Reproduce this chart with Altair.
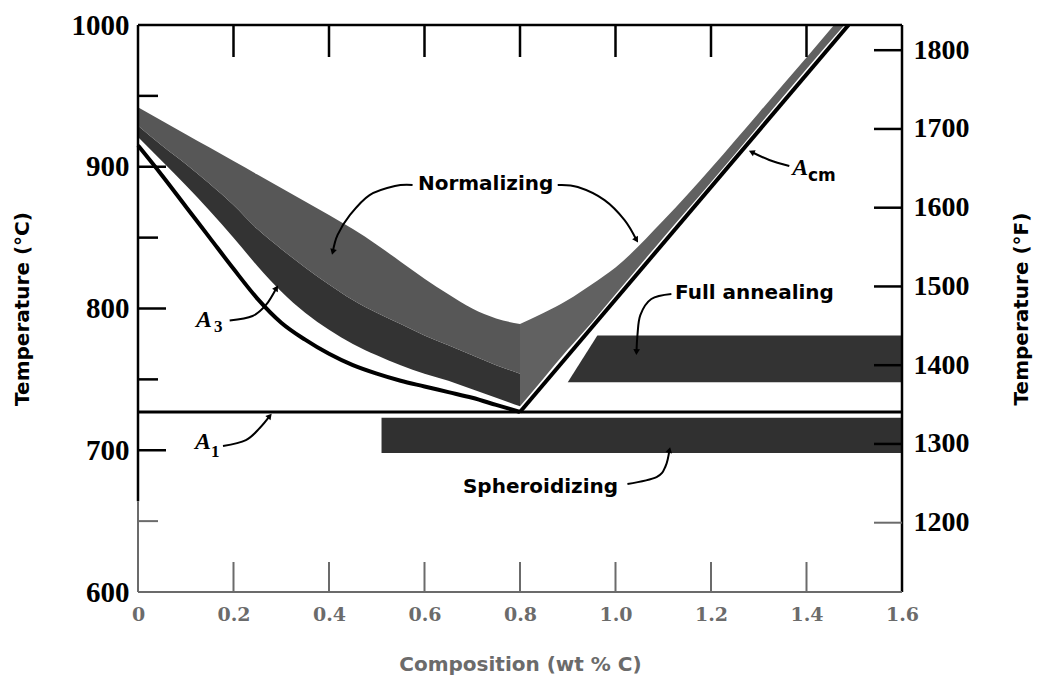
import math
import altair as alt
import pandas as pd

W, H = 764, 567
GRAY = "#6b6b6b"
NORM = "#575757"
NORM_R = "#616161"
FULL = "#333333"
SPHER = "#303030"

# ---------------- data ----------------
x_label_vals = [0, 0.2, 0.4, 0.6, 0.8, 1.0, 1.2, 1.4, 1.6]
x_inner_ticks = [0.2, 0.4, 0.6, 0.8, 1.0, 1.2, 1.4]
c_label_vals = [600, 700, 800, 900, 1000]
c_major_ticks = [700, 800, 900]
c_minor_ticks = [750, 850, 950]
c_faint_ticks = [650]
f_label_vals = [1200, 1300, 1400, 1500, 1600, 1700, 1800]
f_dark_ticks = [1300, 1400, 1500, 1600, 1700, 1800]
f_faint_ticks = [1200]

# A3 boundary
a3_x = [0, 0.05, 0.1, 0.15, 0.2, 0.25, 0.3, 0.35, 0.4, 0.45, 0.5, 0.55, 0.6, 0.65, 0.7, 0.75, 0.8]
a3_t = [915, 894, 872, 850, 828, 807, 790, 778, 768, 760, 754, 749, 745, 741, 737, 732, 727]
# Acm boundary
acm_x = [0.8, 1.488]
acm_t = [727, 1000]
# A1 line
a1_x = [0, 1.6]
a1_t = [727, 727]

# hypoeutectoid heat-treatment band (lower edge, split, upper edge)
band_x = [0, 0.05, 0.1, 0.15, 0.2, 0.25, 0.3, 0.35, 0.4, 0.45, 0.5, 0.55, 0.6, 0.65, 0.7, 0.75, 0.8]
band_lo = [921, 904, 887, 869, 850, 830, 812, 797, 785, 775, 767, 760, 754, 749, 743, 737, 731]
band_mid = [929, 915, 902, 888, 873, 856, 842, 829, 817, 806, 797, 789, 781, 774, 767, 760, 754]
band_hi = [942, 932.5, 923, 913.5, 904, 894.5, 885, 875.5, 866, 856, 845, 833, 821, 810, 800, 793, 789]
# normalizing band above Acm
nr_x = [0.8, 0.85, 0.9, 0.95, 1.0, 1.1, 1.2, 1.3, 1.4, 1.5]
nr_lo = [731, 751, 771, 790, 810, 850, 889, 929, 969, 1008]
nr_hi = [789, 797, 806, 817, 829, 862, 899, 938, 977, 1017]
# full annealing band, hypereutectoid
fa_x = [0.90, 0.962, 1.6]
fa_lo = [748, 748, 748]
fa_hi = [748, 781, 781]
# spheroidizing band
sp_x0, sp_x1 = [0.51], [1.6]
sp_lo, sp_hi = [698], [723]

# leader lines (composition, temperature)
leaders = {
    "norm_l": ([0.575, 0.538, 0.485, 0.444, 0.418, 0.408], [887.1, 886.4, 880, 866, 851.9, 839.9]),
    "norm_r": ([0.879, 0.921, 0.977, 1.019, 1.044], [887.1, 885.7, 876.5, 862.4, 848.3]),
    "full": ([1.117, 1.075, 1.052, 1.046, 1.044], [810.2, 806.7, 795.4, 781.3, 769.3]),
    "sph": ([1.025, 1.086, 1.105, 1.113], [676.2, 681.1, 688.9, 700.2]),
    "a3": ([0.192, 0.24, 0.268, 0.29], [791.5, 794.7, 802.5, 814.5]),
    "acm": ([1.364, 1.322, 1.285], [900.5, 904.8, 910.4]),
    "a1": ([0.178, 0.226, 0.255, 0.276], [703, 707.2, 715.7, 724.2]),
}

proc_text = ["Normalizing", "Full annealing", "Spheroidizing"]
proc_x = [0.728, 1.291, 0.843]
proc_t = [887.8, 811, 674]

a_text = ["A", "A", "A"]
a_x = [0.138, 1.387, 0.136]
a_t = [791.9, 899.1, 705.8]
sub_num_text = ["3", "1"]
sub_num_x = [0.168, 0.162]
sub_num_t = [787, 699]
sub_cm_text = ["cm"]
sub_cm_x = [1.432]
sub_cm_t = [893.5]

# ---------------- scales / axes ----------------
xs = alt.Scale(domain=[0, 1.6], nice=False, zero=False)
ys = alt.Scale(domain=[600, 1000], nice=False, zero=False)
fs = alt.Scale(domain=[1112, 1832], nice=False, zero=False)

x_axis = alt.Axis(
    values=x_label_vals,
    labelExpr="datum.value == 0 ? '0' : format(datum.value, '.1f')",
    ticks=False, domain=False, grid=False,
    labelFont="DejaVu Serif", labelFontWeight="bold", labelFontSize=19,
    labelColor=GRAY, labelPadding=13, labelFlush=False, labelOverlap=False,
    title="Composition (wt % C)", titleFont="DejaVu Sans", titleFontWeight="bold",
    titleFontSize=20, titleColor=GRAY, titleX=W / 2, titleY=82,
    titleAlign="center", titleBaseline="bottom",
)
y_axis = alt.Axis(
    values=c_label_vals, format="d", ticks=False, domain=False, grid=False,
    labelFont="Liberation Serif", labelFontWeight="bold", labelFontSize=29,
    labelColor="black", labelPadding=9, labelOverlap=False,
    title="Temperature (°C)", titleFont="DejaVu Sans", titleFontWeight="bold",
    titleFontSize=20, titleColor="black", titleX=-116, titleY=H / 2,
    titleAngle=270, titleAlign="center", titleBaseline="middle",
)
f_axis = alt.Axis(
    orient="right", values=f_label_vals, format="d", ticks=False, domain=False, grid=False,
    labelFont="Liberation Serif", labelFontWeight="bold", labelFontSize=28,
    labelColor="black", labelPadding=11, labelOverlap=False,
    title="Temperature (°F)", titleFont="DejaVu Sans", titleFontWeight="bold",
    titleFontSize=20, titleColor="black", titleX=119, titleY=H / 2,
    titleAngle=270, titleAlign="center", titleBaseline="middle",
)


def X(field="x"):
    return alt.X(f"{field}:Q", scale=xs)


def Y(field="t"):
    return alt.Y(f"{field}:Q", scale=ys)


one = pd.DataFrame({"k": [0]})

# ---------------- layers ----------------
band_df = pd.DataFrame({"x": band_x, "lo": band_lo, "mid": band_mid, "hi": band_hi})
full_left = alt.Chart(band_df).mark_area(color=FULL, interpolate="monotone").encode(
    x=alt.X("x:Q", scale=xs, axis=x_axis),
    y=alt.Y("lo:Q", scale=ys, axis=y_axis),
    y2="mid:Q",
)
norm_left = alt.Chart(band_df).mark_area(color=NORM, interpolate="monotone").encode(
    x=X(), y=Y("mid"), y2="hi:Q"
)
nr_df = pd.DataFrame({"x": nr_x, "lo": nr_lo, "hi": nr_hi})
norm_right = alt.Chart(nr_df).mark_area(color=NORM_R, interpolate="monotone", clip=True).encode(
    x=X(), y=Y("lo"), y2="hi:Q"
)
fa_df = pd.DataFrame({"x": fa_x, "lo": fa_lo, "hi": fa_hi})
full_right = alt.Chart(fa_df).mark_area(color=FULL).encode(x=X(), y=Y("lo"), y2="hi:Q")
sp_df = pd.DataFrame({"x0": sp_x0, "x1": sp_x1, "lo": sp_lo, "hi": sp_hi})
spher = alt.Chart(sp_df).mark_rect(color=SPHER).encode(x=X("x0"), x2="x1:Q", y=Y("lo"), y2="hi:Q")

a3_line = alt.Chart(pd.DataFrame({"x": a3_x, "t": a3_t})).mark_line(
    color="black", strokeWidth=4, interpolate="monotone"
).encode(x=X(), y=Y())
acm_line = alt.Chart(pd.DataFrame({"x": acm_x, "t": acm_t})).mark_line(
    color="black", strokeWidth=4, clip=True
).encode(x=X(), y=Y())
a1_line = alt.Chart(pd.DataFrame({"x": a1_x, "t": a1_t})).mark_line(
    color="black", strokeWidth=3
).encode(x=X(), y=Y())

# frame
frame = [
    alt.Chart(one).mark_rule(color="black", strokeWidth=2.5).encode(
        x=alt.value(0), x2=alt.value(W), y=alt.value(0)),
    alt.Chart(one).mark_rule(color="black", strokeWidth=2.5).encode(
        x=alt.value(W), y=alt.value(0), y2=alt.value(H)),
    alt.Chart(one).mark_rule(color="black", strokeWidth=2.5).encode(
        x=alt.value(0), y=alt.value(0), y2=alt.value(H * 0.84)),
    alt.Chart(one).mark_rule(color=GRAY, strokeWidth=2).encode(
        x=alt.value(0), y=alt.value(H * 0.84), y2=alt.value(H)),
    alt.Chart(one).mark_rule(color=GRAY, strokeWidth=2).encode(
        x=alt.value(0), x2=alt.value(W), y=alt.value(H)),
]

# inward ticks
ticks = [
    alt.Chart(pd.DataFrame({"t": c_major_ticks})).mark_rule(color="black", strokeWidth=2.5).encode(
        y=Y(), x=alt.value(0), x2=alt.value(28)),
    alt.Chart(pd.DataFrame({"t": c_minor_ticks})).mark_rule(color="black", strokeWidth=2.5).encode(
        y=Y(), x=alt.value(0), x2=alt.value(20)),
    alt.Chart(pd.DataFrame({"t": c_faint_ticks})).mark_rule(color=GRAY, strokeWidth=2).encode(
        y=Y(), x=alt.value(0), x2=alt.value(20)),
    alt.Chart(pd.DataFrame({"x": x_inner_ticks})).mark_rule(color="black", strokeWidth=2.5).encode(
        x=X(), y=alt.value(0), y2=alt.value(32)),
    alt.Chart(pd.DataFrame({"x": x_inner_ticks})).mark_rule(color=GRAY, strokeWidth=2).encode(
        x=X(), y=alt.value(H), y2=alt.value(H - 30)),
]

# leaders and arrowheads
rows, tips = [], []
sx, sy = W / 1.6, H / 400.0
for name, (lx, lt) in leaders.items():
    for i, (xv, tv) in enumerate(zip(lx, lt)):
        rows.append({"id": name, "o": i, "x": xv, "t": tv})
    dx = (lx[-1] - lx[-2]) * sx
    dys = -(lt[-1] - lt[-2]) * sy
    ang = math.degrees(math.atan2(dx, -dys)) % 360
    tips.append({"x": lx[-1], "t": lt[-1], "ang": ang})
lead_df = pd.DataFrame(rows)
tip_df = pd.DataFrame(tips)
leader_lines = alt.Chart(lead_df).mark_line(
    color="black", strokeWidth=2, interpolate="cardinal"
).encode(x=X(), y=Y(), detail="id:N", order="o:Q")
arrowheads = alt.Chart(tip_df).mark_point(
    shape="triangle-up", filled=True, color="black", size=45, opacity=1
).encode(x=X(), y=Y(), angle=alt.Angle("ang:Q", scale=None))

# texts
proc_labels = alt.Chart(pd.DataFrame({"x": proc_x, "t": proc_t, "s": proc_text})).mark_text(
    font="DejaVu Sans", fontWeight="bold", fontSize=20, color="black",
    align="center", baseline="middle"
).encode(x=X(), y=Y(), text="s:N")
a_labels = alt.Chart(pd.DataFrame({"x": a_x, "t": a_t, "s": a_text})).mark_text(
    font="Liberation Serif", fontWeight="bold", fontStyle="italic", fontSize=24,
    color="black", align="center", baseline="middle"
).encode(x=X(), y=Y(), text="s:N")
sub_num = alt.Chart(pd.DataFrame({"x": sub_num_x, "t": sub_num_t, "s": sub_num_text})).mark_text(
    font="Liberation Serif", fontWeight="bold", fontSize=17, color="black",
    align="center", baseline="middle"
).encode(x=X(), y=Y(), text="s:N")
sub_cm = alt.Chart(pd.DataFrame({"x": sub_cm_x, "t": sub_cm_t, "s": sub_cm_text})).mark_text(
    font="DejaVu Sans", fontWeight="bold", fontSize=17, color="black",
    align="center", baseline="middle"
).encode(x=X(), y=Y(), text="s:N")

celsius = alt.layer(
    full_left, norm_left, norm_right, full_right, spher,
    a3_line, acm_line, a1_line,
    *frame, *ticks,
    leader_lines, arrowheads,
    proc_labels, a_labels, sub_num, sub_cm,
)

f_axis_layer = alt.Chart(pd.DataFrame({"f": f_dark_ticks})).mark_rule(
    color="black", strokeWidth=2.5
).encode(y=alt.Y("f:Q", scale=fs, axis=f_axis), x=alt.value(W), x2=alt.value(W - 28))
f_faint_layer = alt.Chart(pd.DataFrame({"f": f_faint_ticks})).mark_rule(
    color=GRAY, strokeWidth=2
).encode(y=alt.Y("f:Q", scale=fs), x=alt.value(W), x2=alt.value(W - 28))
fahr = alt.layer(f_axis_layer, f_faint_layer)

chart = alt.layer(celsius, fahr).resolve_scale(y="independent").properties(
    width=W, height=H,
    autosize=alt.AutoSizeParams(type="none"),
    padding={"left": 130, "top": 17, "right": 135, "bottom": 84},
    background="white",
).configure_view(stroke=None)

chart.save("out.html", embed_options={"renderer": "svg", "actions": False})
